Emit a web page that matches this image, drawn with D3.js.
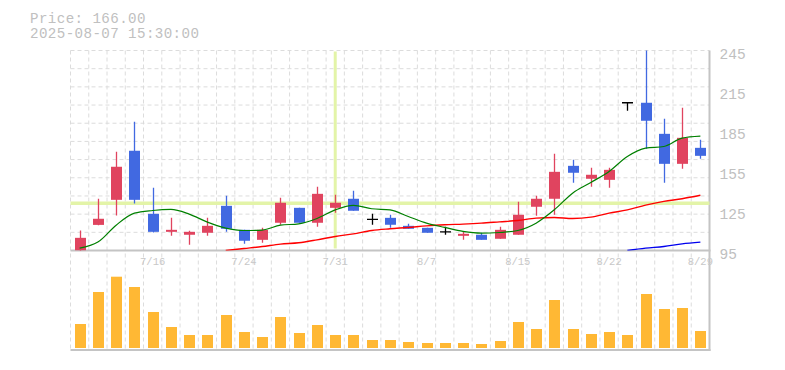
<!DOCTYPE html>
<html>
<head>
<meta charset="utf-8">
<script src="https://cdn.jsdelivr.net/npm/d3@7"></script>
<style>
  body { margin: 0; background: #fff; }
  svg { display: block; }
  text { font-family: "Liberation Mono", "DejaVu Sans Mono", monospace; }
</style>
</head>
<body>
<svg id="chart" width="785" height="370"></svg>
<script>
// trading days shown on the chart
const dates = [
  '7/10','7/11','7/14','7/15','7/16','7/17','7/18','7/22','7/23','7/24',
  '7/25','7/28','7/29','7/30','7/31','8/1','8/4','8/5','8/6','8/7',
  '8/8','8/12','8/13','8/14','8/15','8/18','8/19','8/20','8/21','8/22',
  '8/25','8/26','8/27','8/28','8/29'
];
const opens  = [95, 114.2, 133, 169.8, 122.5, 109, 106.8, 108.3, 128.5, 110.5,
  103, 115.8, 127, 115.8, 127, 133.8, 118.3, 119.5, 113.5, 112,
  109, 106, 106.8, 103.8, 106.8, 127.8, 133.8, 158.5, 148.8, 148,
  205.8, 205.8, 182.5, 160, 172];
const highs  = [110, 133.8, 169, 191.5, 142, 119.5, 109.8, 119.5, 136, 110.5,
  112, 134.5, 127, 142.8, 136.8, 139.8, 122.5, 121.8, 115, 112,
  112.8, 109, 108.3, 112.8, 131.5, 136, 167.5, 163, 157, 157,
  205.8, 245, 193.8, 202, 178];
const lows   = [94.5, 114, 121.3, 130.3, 108.5, 106, 99.3, 106, 109, 100,
  100.8, 114.3, 115.8, 112.8, 123.3, 124.8, 114.3, 112, 111.3, 108.3,
  106.8, 103, 103, 103.8, 106.8, 121, 121.8, 145.8, 142.8, 142,
  199.8, 171.3, 145.8, 156.3, 163.8];
const closes = [104.5, 118.8, 157.8, 133, 109, 110.5, 109, 113.5, 111.3, 102.3,
  110.5, 130.8, 115.8, 137.5, 130.8, 124.8, 118.3, 114.3, 111.3, 108.3,
  109, 107.5, 103, 110.5, 121.8, 133.8, 154, 153.3, 151.8, 155.5,
  205.8, 192.3, 160, 179.5, 166];
const volumes = [2400, 5600, 7130, 6100, 3600, 2100, 1300, 1300, 3300, 1600,
  1100, 3100, 1500, 2300, 1300, 1300, 800, 800, 600, 500,
  500, 500, 400, 700, 2600, 1900, 4800, 1900, 1400, 1600,
  1300, 5400, 3900, 4000, 1700];
// moving averages (null = not drawn)
const maShort = [96.8, 101.3, 114, 123, 125, 125.8, 122.3, 116.3, 111.8, 110,
  110.3, 114, 115, 119, 125.5, 128.8, 126.3, 125.5, 120.5, 115.5,
  112.3, 109.3, 108, 108.5, 110, 115.5, 125.5, 138, 146, 154.3,
  165.5, 171.8, 173, 179.3, 180.8];
const maMid = [null, null, null, null, null, null, null, null, 95, 96.5,
  98, 99.8, 100.8, 103, 105.5, 107.5, 110, 111.3, 112.3, 113.5,
  114.3, 114.8, 115.5, 116.5, 117.5, 119.3, 119.8, 119, 120, 123,
  125.5, 129, 131.8, 133.8, 136.4];
const maLong = [null, null, null, null, null, null, null, null, null, null,
  null, null, null, null, null, null, null, null, null, null,
  null, null, null, null, null, null, null, null, null, null,
  95, 96.8, 98, 100, 101.3];
const priceTicks = [95, 125, 155, 185, 215, 245];
const labelEvery = 5;
const crossIndex = 14;
const crossPrice = 130.5;
const infoLines = ['Price: 166.00', '2025-08-07 15:30:00'];

const left = 70.5, right = 709.5;
const priceTop = 50.5, priceBottom = 250.5;
const volBottom = 348, volAxis = 350;

const svg = d3.select('#chart');

const x = d3.scaleBand().domain(d3.range(dates.length)).range([left, right]).padding(0);
const cx = i => x(i) + x.bandwidth() / 2;
const y = d3.scaleLinear().domain([95, 245]).range([priceBottom, priceTop]);
const yv = d3.scaleLinear().domain([0, 7500]).range([volBottom, volBottom - 75]);

svg.append('defs').append('clipPath').attr('id', 'plotClip')
  .append('rect').attr('x', left).attr('y', priceTop - 1)
  .attr('width', right - left).attr('height', priceBottom - priceTop + 1);

// grid
const grid = svg.append('g').attr('stroke', '#dcdcdc').attr('stroke-dasharray', '4,3').attr('stroke-width', 1);
d3.range(dates.length).forEach(i => {
  grid.append('line').attr('x1', x(i)).attr('x2', x(i)).attr('y1', priceTop).attr('y2', volAxis);
});
const gy = d3.scaleLinear().domain([0, 11]).range([priceBottom, priceTop]);
d3.range(1, 12).forEach(k => {
  grid.append('line').attr('x1', left).attr('x2', right).attr('y1', gy(k)).attr('y2', gy(k));
});

// axis frame lines
svg.append('line').attr('x1', left).attr('x2', right + 1).attr('y1', priceBottom).attr('y2', priceBottom)
  .attr('stroke', '#c4c4c4').attr('stroke-width', 2);
svg.append('line').attr('x1', left).attr('x2', right + 1).attr('y1', volAxis).attr('y2', volAxis)
  .attr('stroke', '#c4c4c4').attr('stroke-width', 2);
svg.append('line').attr('x1', right).attr('x2', right).attr('y1', priceTop).attr('y2', volAxis + 1)
  .attr('stroke', '#c4c4c4').attr('stroke-width', 2);

// crosshair
svg.append('line').attr('x1', left).attr('x2', right).attr('y1', y(crossPrice)).attr('y2', y(crossPrice))
  .attr('stroke', '#e3f4a8').attr('stroke-width', 3.5);
svg.append('line').attr('x1', cx(crossIndex)).attr('x2', cx(crossIndex)).attr('y1', priceTop + 1).attr('y2', priceBottom - 2)
  .attr('stroke', '#e3f4a8').attr('stroke-width', 3);

// candles
const upColor = '#e0445f', downColor = '#4169e1';
const candles = svg.append('g').attr('clip-path', 'url(#plotClip)');
const bodyW = 11;
dates.forEach((d, i) => {
  const o = opens[i], c = closes[i];
  const col = c > o ? upColor : (c < o ? downColor : '#000');
  const g = candles.append('g');
  g.append('line').attr('x1', Math.round(cx(i)) + 0.5).attr('x2', Math.round(cx(i)) + 0.5)
    .attr('y1', y(highs[i])).attr('y2', y(lows[i]))
    .attr('stroke', col).attr('stroke-width', 1.3);
  if (c === o) {
    g.append('line').attr('x1', Math.round(cx(i)) - 5).attr('x2', Math.round(cx(i)) + 6)
      .attr('y1', y(o)).attr('y2', y(o)).attr('stroke', col).attr('stroke-width', 1.3);
  } else {
    g.append('rect').attr('x', Math.round(cx(i)) - 5).attr('width', bodyW)
      .attr('y', y(Math.max(o, c))).attr('height', Math.abs(y(o) - y(c)))
      .attr('fill', col);
  }
});

// moving averages
const maLine = d3.line().defined(v => v != null).curve(d3.curveMonotoneX).x((v, i) => cx(i)).y(v => y(v));
const maG = svg.append('g').attr('clip-path', 'url(#plotClip)').attr('fill', 'none');
maG.append('path').attr('d', maLine(maLong)).attr('stroke', '#0000ee').attr('stroke-width', 1.4);
maG.append('path').attr('d', maLine(maMid)).attr('stroke', '#ff0000').attr('stroke-width', 1.4);
maG.append('path').attr('d', maLine(maShort)).attr('stroke', '#008000').attr('stroke-width', 1.2);

// volume bars
svg.append('g').selectAll('rect').data(volumes).join('rect')
  .attr('x', (v, i) => Math.round(cx(i)) - 5)
  .attr('width', bodyW)
  .attr('y', v => yv(v))
  .attr('height', v => volBottom - yv(v))
  .attr('fill', '#ffb834');

// right price axis
const yAxis = d3.axisRight(y).tickValues(priceTicks).tickSize(0).tickPadding(0).tickFormat(d3.format('d'));
const ya = svg.append('g').attr('transform', `translate(${right + 10},0)`).call(yAxis);
ya.select('.domain').remove();
ya.selectAll('text').attr('fill', '#c0c0c0').attr('font-size', 14.5)
  .attr('font-family', '"Liberation Mono", monospace').attr('dy', '0.55em');

// date labels
const xAxis = d3.axisBottom(x)
  .tickValues(d3.range(dates.length).filter(i => i % labelEvery === labelEvery - 1))
  .tickFormat(i => dates[i]).tickSize(0).tickPadding(0);
const xa = svg.append('g').attr('transform', `translate(0,${priceBottom + 7})`).call(xAxis);
xa.select('.domain').remove();
xa.selectAll('text').attr('fill', '#c8c8c8').attr('font-size', 10.5)
  .attr('font-family', '"Liberation Mono", monospace');

// info text
svg.append('g').selectAll('text').data(infoLines).join('text')
  .attr('x', 30).attr('y', (t, i) => 22.5 + i * 15)
  .attr('fill', '#c0c0c0').attr('font-size', 14.2)
  .attr('letter-spacing', 0.4)
  .text(t => t);
</script>
</body>
</html>
